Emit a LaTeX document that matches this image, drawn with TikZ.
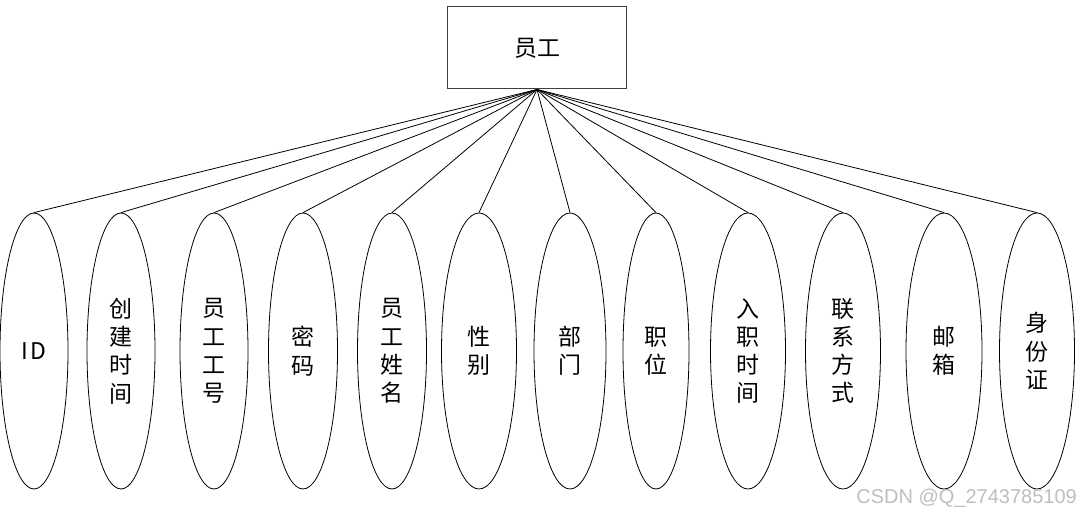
\documentclass[tikz,border=0pt]{standalone}
\usepackage{fontspec}
\newfontfamily\cjk{Noto Sans CJK SC}
\setsansfont{Liberation Sans}
\usetikzlibrary{shapes.geometric}
\begin{document}
\begin{tikzpicture}[x=1pt,y=-1pt,
  attr/.style={draw=black, line width=0.8pt, ellipse, inner sep=0pt, minimum height=276pt, align=center,
    font=\cjk\fontsize{23}{28.3}\selectfont},
  entity/.style={draw=black!75, line width=1pt, rectangle, minimum width=179pt, minimum height=82pt, inner sep=0pt,
    font=\cjk\fontsize{23}{26}\selectfont},
  conn/.style={line width=0.8pt, black}]
\useasboundingbox (0,0) rectangle (1086,516);
\fill[white] (0,0) rectangle (1086,516);
\node[entity] (e) at (537,48) {员工};
\node[attr, minimum width=68pt] (a1) at (34,351) {I\hspace{3pt}D};
\node[attr, minimum width=68pt] (a2) at (121,351) {创\\建\\时\\间};
\node[attr, minimum width=68pt] (a3) at (214,351) {员\\工\\工\\号};
\node[attr, minimum width=69pt] (a4) at (303,351) {密\\码};
\node[attr, minimum width=69pt] (a5) at (392,351) {员\\工\\姓\\名};
\node[attr, minimum width=75pt] (a6) at (479,351) {性\\别};
\node[attr, minimum width=72pt] (a7) at (570,351) {部\\门};
\node[attr, minimum width=66pt] (a8) at (656,351) {职\\位};
\node[attr, minimum width=75pt] (a9) at (748,351) {入\\职\\时\\间};
\node[attr, minimum width=75pt] (a10) at (843,351) {联\\系\\方\\式};
\node[attr, minimum width=76pt] (a11) at (944,351) {邮\\箱};
\node[attr, minimum width=75pt] (a12) at (1037,351) {身\\份\\证};
\foreach \i in {1,...,12} {\draw[conn] (e.south) -- (a\i.north);}
\node[anchor=east, text=black!25, font=\sffamily\fontsize{20}{22}\selectfont, inner sep=0pt] (wm) at (1077,498) {CSDN @Q\_2743785109};
\end{tikzpicture}
\end{document}
